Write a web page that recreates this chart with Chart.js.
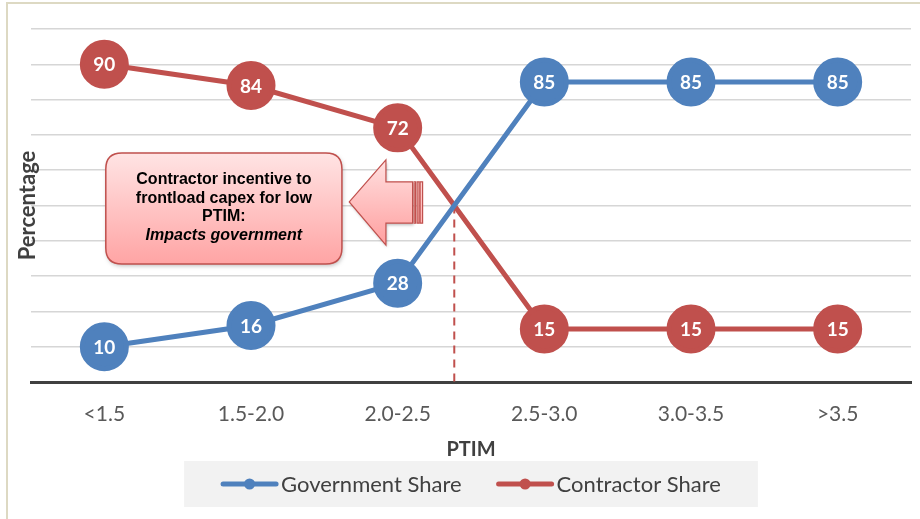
<!DOCTYPE html>
<html>
<head>
<meta charset="utf-8">
<title>PTIM share</title>
<script src="https://cdn.jsdelivr.net/npm/chart.js@4.4.1/dist/chart.umd.min.js"></script>
<style>
  html, body { margin: 0; padding: 0; background: #fff; }
  #wrap { position: relative; width: 920px; height: 519px; }
</style>
</head>
<body>
<div id="wrap"><canvas id="ptimChart"></canvas></div>
<script>
// ---------- Data ----------
const categories = ["<1.5", "1.5-2.0", "2.0-2.5", "2.5-3.0", "3.0-3.5", ">3.5"];
const governmentShare = [10, 16, 28, 85, 85, 85];
const contractorShare = [90, 84, 72, 15, 15, 15];
const yTicks = { min: 0, max: 100, step: 10 };

const calloutLines = [
  { text: "Contractor incentive to", italic: false },
  { text: "frontload capex for low", italic: false },
  { text: "PTIM:", italic: false },
  { text: "Impacts government", italic: true },
];

// ---------- Palette ----------
const COLORS = {
  blue: "#4F81BD",
  red: "#C0504D",
  ink: "#404040",
  tick: "#595959",
  grid: "#d6d6d6",
  frame: "#ddd9c3",
  legendBg: "#f2f2f2",
};

// ---------- Plugins ----------
const framePlugin = {
  id: "frame",
  beforeDraw(chart) {
    const { ctx, width, height } = chart;
    ctx.save();
    ctx.strokeStyle = COLORS.frame;
    ctx.lineWidth = 2;
    ctx.beginPath();
    ctx.moveTo(7, height);
    ctx.lineTo(7, 3);
    ctx.lineTo(width, 3);
    ctx.stroke();
    ctx.restore();
  },
};

function roundRect(ctx, x, y, w, h, r) {
  ctx.beginPath();
  ctx.moveTo(x + r, y);
  ctx.lineTo(x + w - r, y);
  ctx.quadraticCurveTo(x + w, y, x + w, y + r);
  ctx.lineTo(x + w, y + h - r);
  ctx.quadraticCurveTo(x + w, y + h, x + w - r, y + h);
  ctx.lineTo(x + r, y + h);
  ctx.quadraticCurveTo(x, y + h, x, y + h - r);
  ctx.lineTo(x, y + r);
  ctx.quadraticCurveTo(x, y, x + r, y);
  ctx.closePath();
}

// crossover of the two lines -> dashed marker + callout arrow
const annotationPlugin = {
  id: "annotations",
  beforeDatasetsDraw(chart) {
    const { ctx, scales: { x, y } } = chart;
    // find where the series cross
    let cross = null;
    for (let i = 0; i < governmentShare.length - 1; i++) {
      const d0 = governmentShare[i] - contractorShare[i];
      const d1 = governmentShare[i + 1] - contractorShare[i + 1];
      if (d0 < 0 && d1 >= 0) {
        const t = d0 / (d0 - d1);
        cross = {
          cat: i + t,
          val: governmentShare[i] + t * (governmentShare[i + 1] - governmentShare[i]),
        };
        break;
      }
    }
    if (!cross) return;
    const px = (c) => x.getPixelForValue(0) + c * (x.getPixelForValue(1) - x.getPixelForValue(0));
    const cx = px(cross.cat);
    ctx.save();
    ctx.strokeStyle = COLORS.red;
    ctx.lineWidth = 2;
    ctx.setLineDash([8, 6]);
    ctx.beginPath();
    ctx.moveTo(cx, y.getPixelForValue(cross.val));
    ctx.lineTo(cx, y.bottom);
    ctx.stroke();
    ctx.restore();
  },
  afterDatasetsDraw(chart) {
    const { ctx, scales: { x, y } } = chart;
    const px = (c) => x.getPixelForValue(0) + c * (x.getPixelForValue(1) - x.getPixelForValue(0));
    const py = (v) => y.getPixelForValue(v);

    // callout box
    const bx = px(0.01), bw = px(1.62) - bx;
    const by = py(64.9), bh = py(33.4) - by;
    ctx.save();
    ctx.shadowColor = "rgba(0,0,0,0.25)";
    ctx.shadowBlur = 4;
    ctx.shadowOffsetX = 1;
    ctx.shadowOffsetY = 2;
    const g = ctx.createLinearGradient(0, by, 0, by + bh);
    g.addColorStop(0, "#ffe4e4");
    g.addColorStop(1, "#ffa4a4");
    roundRect(ctx, bx, by, bw, bh, 16);
    ctx.fillStyle = g;
    ctx.fill();
    ctx.shadowColor = "transparent";
    ctx.strokeStyle = COLORS.red;
    ctx.lineWidth = 1.5;
    ctx.stroke();
    ctx.restore();

    // callout text
    ctx.save();
    ctx.fillStyle = "#000";
    ctx.textAlign = "center";
    ctx.textBaseline = "middle";
    const midX = bx + bw / 2;
    const lh = 18.8;
    const startY = by + bh / 2 - lh * (calloutLines.length - 1) / 2 - 1;
    calloutLines.forEach((l, i) => {
      ctx.font = (l.italic ? "italic " : "") + "bold 16px 'Liberation Sans', Arial, sans-serif";
      ctx.fillText(l.text, midX, startY + i * lh);
    });
    ctx.restore();

    // block arrow pointing left at the box
    const tipX = px(1.67), tipY = py(51);
    const headX = px(1.92), tailX = px(2.17);
    const headTop = py(62.9), headBot = py(38.8);
    const shaftTop = py(56.7), shaftBot = py(45);
    const stripe1 = tailX - 10, stripe2 = tailX - 6, stripe3 = tailX - 3;
    ctx.save();
    const ag = ctx.createLinearGradient(0, headTop, 0, headBot);
    ag.addColorStop(0, "#ffe0e0");
    ag.addColorStop(1, "#ff9f9f");
    ctx.shadowColor = "rgba(0,0,0,0.25)";
    ctx.shadowBlur = 3;
    ctx.shadowOffsetX = 1;
    ctx.shadowOffsetY = 2;
    ctx.fillStyle = ag;
    ctx.strokeStyle = COLORS.red;
    ctx.lineWidth = 1.2;
    ctx.beginPath();
    ctx.moveTo(tipX, tipY);
    ctx.lineTo(headX, headTop);
    ctx.lineTo(headX, shaftTop);
    ctx.lineTo(stripe1, shaftTop);
    ctx.lineTo(stripe1, shaftBot);
    ctx.lineTo(headX, shaftBot);
    ctx.lineTo(headX, headBot);
    ctx.closePath();
    ctx.fill();
    ctx.shadowColor = "transparent";
    ctx.stroke();
    [[stripe1 + 1.5, stripe2 - 1], [stripe2 + 0.5, stripe3 - 0.5], [stripe3 + 0.5, tailX]].forEach(([a, b]) => {
      ctx.fillStyle = ag;
      ctx.fillRect(a, shaftTop, b - a, shaftBot - shaftTop);
      ctx.strokeRect(a, shaftTop, b - a, shaftBot - shaftTop);
    });
    ctx.restore();

    // value labels inside markers
    ctx.save();
    ctx.fillStyle = "#fff";
    ctx.font = "bold 19px Lato, 'Open Sans', sans-serif";
    ctx.textAlign = "center";
    ctx.textBaseline = "middle";
    chart.data.datasets.forEach((ds, di) => {
      chart.getDatasetMeta(di).data.forEach((pt, i) => {
        ctx.fillText(String(ds.data[i]), pt.x, pt.y + 1);
      });
    });
    ctx.restore();
  },
};

// legend in a grey band under the axis title
const legendPlugin = {
  id: "boxLegend",
  afterDraw(chart) {
    const { ctx, chartArea } = chart;
    const font = "22px Lato, 'Open Sans', sans-serif";
    ctx.save();
    ctx.font = font;
    const sw = 57, gap = 3, spacing = 35;
    const items = chart.data.datasets.map((ds) => ({
      label: ds.label,
      color: ds.borderColor,
      w: sw + gap + ctx.measureText(ds.label).width,
    }));
    const total = items.reduce((s, it) => s + it.w, 0) + spacing * (items.length - 1);
    const cx = (chartArea.left + chartArea.right) / 2;
    const top = chartArea.bottom + 79, bottom = chartArea.bottom + 125;
    const padX = 37;
    ctx.fillStyle = COLORS.legendBg;
    ctx.fillRect(cx - total / 2 - padX, top, total + padX * 2, bottom - top);
    let lx = cx - total / 2;
    const ly = (top + bottom) / 2;
    items.forEach((it) => {
      ctx.strokeStyle = it.color;
      ctx.lineWidth = 5;
      ctx.lineCap = "round";
      ctx.beginPath();
      ctx.moveTo(lx + 2, ly);
      ctx.lineTo(lx + sw - 2, ly);
      ctx.stroke();
      ctx.fillStyle = it.color;
      ctx.beginPath();
      ctx.arc(lx + sw / 2, ly, 5.5, 0, Math.PI * 2);
      ctx.fill();
      ctx.fillStyle = COLORS.ink;
      ctx.textAlign = "left";
      ctx.textBaseline = "middle";
      ctx.fillText(it.label, lx + sw + gap, ly + 1);
      lx += it.w + spacing;
    });
    ctx.restore();
  },
};

// ---------- Chart ----------
const ctx = document.getElementById("ptimChart").getContext("2d");
new Chart(ctx, {
  type: "line",
  data: {
    labels: categories,
    datasets: [
      {
        label: "Government Share",
        data: governmentShare,
        borderColor: COLORS.blue,
        backgroundColor: COLORS.blue,
        pointBackgroundColor: COLORS.blue,
        pointBorderColor: COLORS.blue,
        borderWidth: 5,
        pointRadius: 22,
        pointHoverRadius: 22,
        tension: 0,
      },
      {
        label: "Contractor Share",
        data: contractorShare,
        borderColor: COLORS.red,
        backgroundColor: COLORS.red,
        pointBackgroundColor: COLORS.red,
        pointBorderColor: COLORS.red,
        borderWidth: 5,
        pointRadius: 22,
        pointHoverRadius: 22,
        tension: 0,
      },
    ],
  },
  options: {
    responsive: true,
    maintainAspectRatio: false,
    animation: false,
    layout: { autoPadding: false, padding: { top: 29, right: 9, bottom: 59, left: 0 } },
    scales: {
      x: {
        offset: true,
        grid: { display: false, drawTicks: false },
        border: { display: true, color: COLORS.ink, width: 3 },
        ticks: {
          color: COLORS.tick,
          padding: 20,
          font: { family: "Lato, 'Open Sans', sans-serif", size: 21 },
        },
        title: {
          display: true,
          text: "PTIM",
          color: COLORS.ink,
          padding: { top: 0, bottom: 0 },
          font: { family: "Lato, 'Open Sans', sans-serif", size: 20, weight: "bold", lineHeight: 1 },
        },
        afterFit(scale) {
          scale.height = 78;
          scale.paddingLeft = 0;
          scale.paddingRight = 0;
        },
      },
      y: {
        min: yTicks.min,
        max: yTicks.max,
        ticks: { stepSize: yTicks.step, display: false },
        grid: { color: COLORS.grid, lineWidth: 1.5, drawTicks: false },
        border: { display: false },
        title: {
          display: true,
          text: "Percentage",
          color: COLORS.ink,
          padding: { top: 15, bottom: 0 },
          font: { family: "Lato, 'Open Sans', sans-serif", size: 22, weight: "bold" },
        },
        afterFit(scale) { scale.width = 31; },
      },
    },
    plugins: {
      legend: { display: false },
      tooltip: { enabled: false },
    },
  },
  plugins: [framePlugin, annotationPlugin, legendPlugin],
});
</script>
</body>
</html>
